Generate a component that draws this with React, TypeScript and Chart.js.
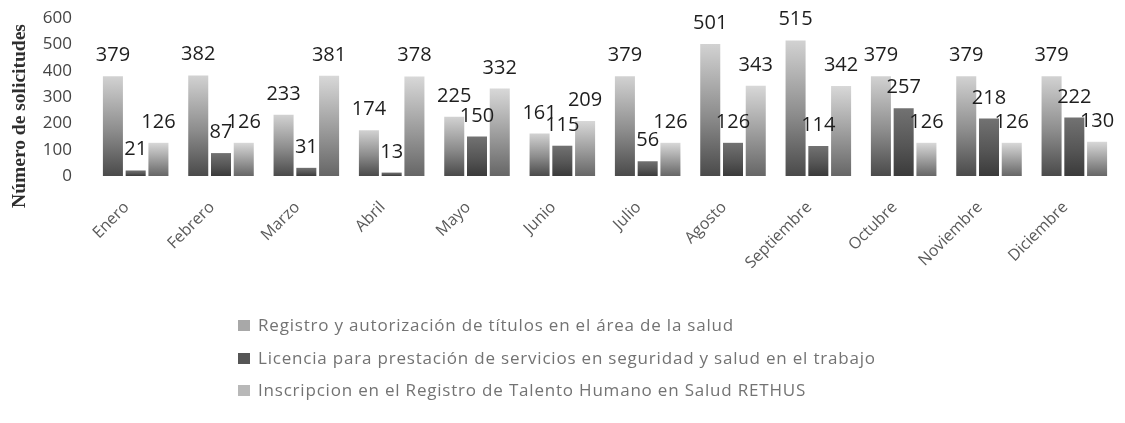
import React, { useEffect, useRef } from "react";
import { Chart, registerables } from "chart.js";

Chart.register(...registerables);

const months = [
  "Enero", "Febrero", "Marzo", "Abril", "Mayo", "Junio",
  "Julio", "Agosto", "Septiembre", "Octubre", "Noviembre", "Diciembre",
];

const registroTitulos = [379, 382, 233, 174, 225, 161, 379, 501, 515, 379, 379, 379];
const licenciaSST = [21, 87, 31, 13, 150, 115, 56, 126, 114, 257, 218, 222];
const inscripcionRethus = [126, 126, 381, 378, 332, 209, 126, 343, 342, 126, 126, 130];

const seriesNames = [
  "Registro y autorización de títulos en el área de la salud",
  "Licencia para prestación de servicios en seguridad y salud en el trabajo",
  "Inscripcion en el Registro de Talento Humano en Salud RETHUS",
];

const yTicks = [0, 100, 200, 300, 400, 500, 600];

// gradient stops per series: [top, middle, bottom]
const gradStops: [string, string, string][] = [
  ["#d2d2d2", "#8c8c8c", "#4a4a4a"],
  ["#727272", "#565656", "#3a3a3a"],
  ["#d8d8d8", "#9a9a9a", "#666666"],
];
const legendColors = ["#a8a8a8", "#555555", "#b8b8b8"];

function barFill(idx: number) {
  return (ctx: any) => {
    const chart = ctx.chart;
    const ys = chart.scales && chart.scales.y;
    if (!ys || !chart.chartArea || ctx.raw == null) return gradStops[idx][1];
    const top = ys.getPixelForValue(ctx.raw);
    const base = ys.getPixelForValue(0);
    if (!isFinite(top) || !isFinite(base) || base - top < 1) return gradStops[idx][1];
    const g = chart.ctx.createLinearGradient(0, top, 0, base);
    g.addColorStop(0, gradStops[idx][0]);
    g.addColorStop(0.55, gradStops[idx][1]);
    g.addColorStop(1, gradStops[idx][2]);
    return g;
  };
}

const valueLabels = {
  id: "valueLabels",
  afterDatasetsDraw(chart: any) {
    const c = chart.ctx;
    c.save();
    c.font = "20px 'Open Sans'";
    c.fillStyle = "#1e1e1e";
    c.textAlign = "center";
    c.textBaseline = "alphabetic";
    chart.data.datasets.forEach((ds: any, di: number) => {
      const meta = chart.getDatasetMeta(di);
      meta.data.forEach((el: any, i: number) => {
        c.fillText(String(ds.data[i]), el.x, el.y - 15);
      });
    });
    c.restore();
  },
};

const sideTitle = {
  id: "sideTitle",
  afterDraw(chart: any) {
    const c = chart.ctx;
    c.save();
    c.translate(12, 108);
    c.rotate(-Math.PI / 2);
    c.font = "bold 19.5px 'Liberation Serif'";
    c.fillStyle = "#2e2e2e";
    c.textAlign = "center";
    c.textBaseline = "middle";
    c.fillText("Número de solicitudes", 0, 0);
    c.restore();
  },
};

const stackedLegend = {
  id: "stackedLegend",
  afterDraw(chart: any) {
    const c = chart.ctx;
    c.save();
    c.font = "17px 'Open Sans'";
    try {
      (c as any).letterSpacing = "0.8px";
    } catch (e) {}
    c.textBaseline = "middle";
    c.textAlign = "left";
    const rows = [318, 351, 383];
    seriesNames.forEach((name, i) => {
      const y = rows[i];
      c.fillStyle = legendColors[i];
      c.fillRect(230, y - 6, 12, 11);
      c.fillStyle = "#737373";
      c.fillText(name, 250, y);
    });
    c.restore();
  },
};

export default function App() {
  const ref = useRef<HTMLCanvasElement | null>(null);
  useEffect(() => {
    if (!ref.current) return;
    const chart = new Chart(ref.current, {
      type: "bar",
      data: {
        labels: months,
        datasets: [registroTitulos, licenciaSST, inscripcionRethus].map((d, i) => ({
          label: seriesNames[i],
          data: d,
          backgroundColor: barFill(i),
          borderWidth: 0,
          categoryPercentage: 0.8,
          barPercentage: 0.88,
        })),
      },
      options: {
        animation: false,
        responsive: false,
        maintainAspectRatio: false,
        layout: { padding: { top: 10, left: 0, right: 0, bottom: 139 } },
        plugins: {
          legend: { display: false },
          tooltip: { enabled: false },
          title: { display: false },
        },
        scales: {
          x: {
            grid: { display: false },
            border: { display: false },
            ticks: {
              minRotation: 45,
              maxRotation: 45,
              color: "#5a5a5a",
              font: { family: "'Open Sans'", size: 16 },
              padding: 14,
              labelOffset: -9,
            },
            afterFit: (s: any) => {
              s.height = 100;
            },
          },
          y: {
            min: 0,
            max: 600,
            afterBuildTicks: (s: any) => {
              s.ticks = yTicks.map((v) => ({ value: v }));
            },
            grid: { display: false, drawTicks: false },
            border: { display: false },
            ticks: {
              autoSkip: false,
              stepSize: 100,
              color: "#444444",
              font: { family: "'Open Sans'", size: 17 },
              padding: 21,
            },
            afterFit: (s: any) => {
              s.width = 85;
              s.paddingTop = 0;
              s.paddingBottom = 0;
            },
          },
        },
      },
      plugins: [valueLabels, sideTitle, stackedLegend],
    });
    return () => chart.destroy();
  }, []);
  return (
    <div style={{ width: 1109, height: 407 }}>
      <canvas ref={ref} width={1109} height={407} style={{ display: "block" }} />
    </div>
  );
}
